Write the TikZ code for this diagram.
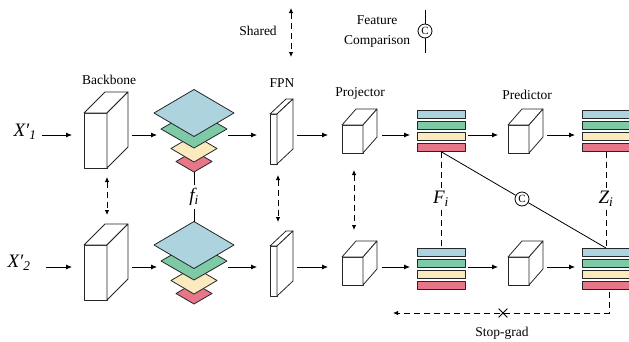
\documentclass[tikz,border=0pt]{standalone}
\usepackage{fontspec}
\setmainfont{Liberation Serif}
\usetikzlibrary{arrows.meta,fit,shapes.misc}

\definecolor{lblue}{RGB}{172,211,222}
\definecolor{lgreen}{RGB}{126,201,166}
\definecolor{lyellow}{RGB}{250,234,190}
\definecolor{lred}{RGB}{230,118,136}

% name, x, y (front face top left), w, h, dx, dy
\newcommand{\cuboid}[7]{%
	\draw[face] (#2,#3) rectangle ++(#4,#5);
	\draw[face] (#2,#3) -- ++(#6,-#7) -- ++(#4,0) -- ++(-#6,#7) -- cycle;
	\draw[face] (#2+#4,#3) -- ++(#6,-#7) -- ++(0,#5) -- ++(-#6,#7) -- cycle;
	\node[hold, fit={(#2,#3-#7) (#2+#4+#6,#3+#5)}] (#1) {};
}

\begin{document}
\begin{tikzpicture}[x=1pt, y=-1pt, font=\fontsize{13.5}{20}\selectfont,
	face/.style={draw=black!85, fill=white, line width=0.8pt, line join=round},
	hold/.style={inner sep=0pt, outer sep=0pt},
	arr/.style={-{Latex[length=6pt,width=5pt]}, line width=0.8pt},
	share/.style={{Latex[length=5pt,width=4.5pt]}-{Latex[length=5pt,width=4.5pt]}, dash pattern=on 6pt off 4pt, line width=0.8pt},
	dline/.style={dash pattern=on 6pt off 4pt, line width=0.8pt},
	sym/.style={font=\fontsize{19}{22}\selectfont\itshape},
	cmpnode/.style={circle, draw, fill=white, minimum size=14pt, inner sep=0pt, line width=0.8pt, font=\fontsize{11}{11}\selectfont}]
	
	\useasboundingbox (0,0) rectangle (629,341);
	
	%legend
	\node (shtxt) at (258,31) {Shared};
	\coordinate (sh1) at (291,8);
	\coordinate (sh2) at (291,57);
	\draw[share] (sh1) -- (sh2);
	\node[align=center] (fctxt) at (377,32) {Feature\\Comparison};
	\node[cmpnode] (key) at (425,31) {C};
	\coordinate (k1) at (425,10);
	\coordinate (k2) at (425,53);
	\draw[line width=0.8pt] (k1) -- (key) -- (k2);
	
	%titles
	\node (tbb) at (109,80) {Backbone};
	\node (tfpn) at (282,83) {FPN};
	\node (tpj) at (360,93) {Projector};
	\node (tpd) at (527,95) {Predictor};
	
	%inputs
	\node[sym] (x1) at (25,132) {X′\textsubscript{1}};
	\node[sym] (x2) at (19,263) {X′\textsubscript{2}};
	
	%rows
	\foreach \row/\ry/\by/\sh in {1/135/110/2, 2/267/248/12}{
		\coordinate (r\row) at (0,\ry);
		\cuboid{bb\row}{84}{\ry-22}{23}{55}{21}{21}
		\cuboid{fpn\row}{270}{\ry-21}{7}{50}{16}{15}
		\cuboid{pj\row}{342}{\ry-10}{21}{28}{14}{16}
		\cuboid{pd\row}{508}{\ry-10}{21}{28}{14}{16}
		% feature stack
		\foreach \col/\off/\hw/\hh in {lred/26.5/18/10.5, lyellow/13.5/23/13.5, lgreen/-6/33/19, lblue/-22/40/23.5}
		\draw[face, fill=\col] (194-\hw,\off+\ry) -- (194,\off+\ry-\hh) -- (194+\hw,\off+\ry) -- (194,\off+\ry+\hh) -- cycle;
		\node[hold, fit={(154,\ry-45.5) (234,\ry+37)}] (st\row) {};
		% bars
		\foreach \col [count=\i from 0] in {lblue,lgreen,lyellow,lred}{
			\draw[face, fill=\col] (417,\by+11.2*\i) rectangle ++(48,8);
			\draw[face, fill=\col] (582,\by+11.2*\i) rectangle ++(48,8);
		}
		\node[hold, fit={(417,\by) (465,\by+41.6)}] (f\row) {};
		\node[hold, fit={(582,\by) (630,\by+41.6)}] (z\row) {};
		% arrows
		\draw[arr, shorten <=\sh pt, shorten >=12pt] (r\row -| x\row.east) -- (r\row -| bb\row.west);
		\foreach \from/\to/\p/\q in {bb/st/4/-3, st/fpn/-6/13, fpn/pj/4/14, pj/f/5/7, f/pd/3/10, pd/z/4/7}
		\draw[arr, shorten <=\p pt, shorten >=\q pt] (r\row -| \from\row.east) -- (r\row -| \to\row.west);
	}
	
	%shared weights
	\draw[share, shorten <=9pt, shorten >=9pt] ([xshift=1pt]bb1.south) -- ([xshift=1pt]bb2.north);
	\draw[share, shorten <=11pt, shorten >=9pt] ([xshift=-3.5pt]fpn1.south) -- ([xshift=-3.5pt]fpn2.north);
	\draw[share, shorten <=17pt, shorten >=11pt] ([xshift=-5.5pt]pj1.south) -- ([xshift=-5.5pt]pj2.north);
	
	%feature links
	\node[sym] (fi) at (194,197) {f\textsubscript{i}};
	\draw[line width=0.8pt] (st1) -- (fi) -- (st2);
	\node[sym] (Fi) at (441,199) {F\textsubscript{i}};
	\draw[dline] (f1) -- (Fi) -- (f2);
	\node[sym] (Zi) at (606,199) {Z\textsubscript{i}};
	\draw[dline] (z1) -- (Zi) -- (z2);
	\node[cmpnode] (cmp) at (522,199) {C};
	\draw[line width=0.8pt] (f1.south) -- (cmp) -- (z2.north);
	
	%stop-grad
	\coordinate (sg) at (393,313);
	\draw[dline, -{Latex[length=5pt,width=4.5pt]}, shorten <=2pt] ([xshift=3pt]z2.south) |- (sg);
	\node[cross out, draw, line width=0.8pt, minimum size=8pt, inner sep=0pt] (cut) at (503,313) {};
	\node (sgtxt) at (502,333) {Stop-grad};
\end{tikzpicture}
\end{document}
